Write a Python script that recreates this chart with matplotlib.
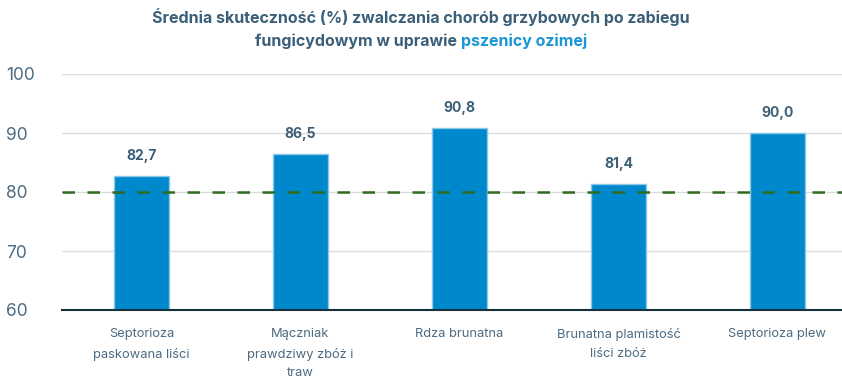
import matplotlib
matplotlib.use("Agg")
from matplotlib import pyplot as plt
import numpy as np

plt.rcParams['font.family'] = ['Inter', 'DejaVu Sans']

# data
categories = ["Septorioza\npaskowana liści", "Mączniak\nprawdziwy zbóż i\ntraw", "Rdza brunatna",
              "Brunatna plamistość\nliści zbóż", "Septorioza plew"]
values = [82.7, 86.5, 90.8, 81.4, 90.0]
value_labels = ["82,7", "86,5", "90,8", "81,4", "90,0"]
threshold = 80
yticks = [60, 70, 80, 90, 100]

title_line1 = "Średnia skuteczność (%) zwalczania chorób grzybowych po zabiegu"
title_line2a = "fungicydowym w uprawie "
title_line2b = "pszenicy ozimej"

bar_color = "#0088cc"
edge_color = "#8cc8ea"
text_color = "#3b5f78"
tick_color = "#4d6b82"

fig = plt.figure(figsize=(8.42, 3.88), dpi=100)
ax = fig.add_axes([62 / 842, 78 / 388, 795 / 842, 236 / 388])

x = np.arange(len(categories))
ax.bar(x, values, width=0.35, color=bar_color, edgecolor=edge_color, linewidth=1, zorder=3)

for xi, v, lab in zip(x, values, value_labels):
    ax.text(xi, v + 2.2, lab, ha='center', va='bottom', fontsize=10, fontweight='bold', color=text_color)

ax.axhline(threshold, color="#2e6b1f", linewidth=1.8, linestyle=(0, (5, 5)), zorder=4)

ax.set_ylim(60, 100)
ax.set_xlim(-0.5, len(categories) - 0.5)
ax.set_yticks(yticks)
ax.set_xticks(x)
ax.set_xticklabels(categories, fontsize=9.3, color=tick_color, linespacing=1.75, va='top')
ax.tick_params(axis='y', labelsize=12.5, colors=tick_color, length=0, pad=40)
ax.tick_params(axis='x', length=0, pad=13)
ax.grid(axis='y', color="#dcdcdc", linewidth=1, zorder=0)
for s in ['top', 'right', 'left']:
    ax.spines[s].set_visible(False)
ax.spines['bottom'].set_color("#15303f")
ax.spines['bottom'].set_linewidth(1.5)
ax.spines['bottom'].set_zorder(5)
for lab in ax.get_yticklabels():
    lab.set_horizontalalignment('left')

# title
cx = 0.5
fig.text(cx, 1 - 17 / 388, title_line1, ha='center', va='center', fontsize=11.5, fontweight='bold', color=text_color)
fig.canvas.draw()
r = fig.canvas.get_renderer()
ta = fig.text(0, 1 - 41 / 388, title_line2a, ha='left', va='center', fontsize=11.5, fontweight='bold', color=text_color)
tb = fig.text(0, 1 - 41 / 388, title_line2b, ha='left', va='center', fontsize=11.5, fontweight='bold', color="#1a95d5")
wa = ta.get_window_extent(r).width / fig.bbox.width
wb = tb.get_window_extent(r).width / fig.bbox.width
start = cx - (wa + wb) / 2
ta.set_x(start)
tb.set_x(start + wa)

plt.savefig("out.png", dpi=100)
